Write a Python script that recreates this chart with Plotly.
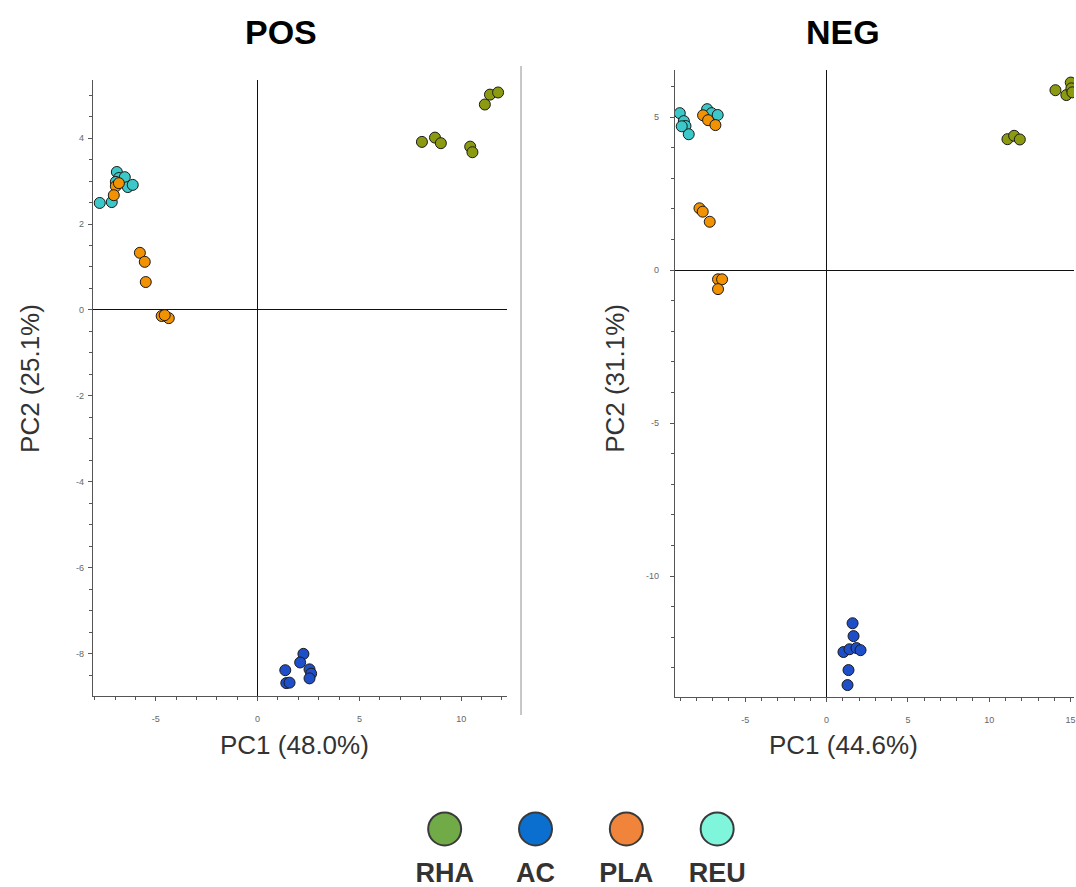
import plotly.graph_objects as go

W, H = 1076, 887

# ---------------- data ----------------
groups = ["RHA", "AC", "PLA", "REU"]
point_colors = {"RHA": "#8c9a12", "AC": "#1f4fc8", "PLA": "#f39200", "REU": "#3cc8c8"}
legend_colors = ["#70ab48", "#0b6fd0", "#f0843a", "#7ff5dc"]

pos_rha_x = [8.07, 8.71, 9.00, 10.44, 10.55, 11.16, 11.41, 11.81]
pos_rha_y = [3.91, 4.01, 3.88, 3.80, 3.67, 4.78, 5.01, 5.06]
pos_ac_x = [2.25, 2.09, 1.36, 2.55, 2.63, 2.55, 1.41, 1.57]
pos_ac_y = [-8.00, -8.20, -8.38, -8.36, -8.46, -8.57, -8.68, -8.67]
pos_pla_x = [-6.96, -7.06, -6.81, -5.78, -5.54, -5.49, -4.71, -4.36, -4.56]
pos_pla_y = [2.88, 2.67, 2.95, 1.33, 1.12, 0.65, -0.14, -0.19, -0.12]
pos_reu_x = [-7.75, -7.16, -6.91, -6.81, -6.52, -6.37, -6.13, -6.96]
pos_reu_y = [2.49, 2.51, 3.21, 3.07, 3.09, 2.86, 2.91, 2.98]

neg_rha_x = [11.12, 11.53, 11.88, 14.07, 14.74, 15.01, 15.05, 15.11]
neg_rha_y = [4.28, 4.39, 4.27, 5.88, 5.72, 6.13, 5.94, 5.81]
neg_ac_x = [1.60, 1.66, 1.04, 1.41, 1.84, 2.09, 1.35, 1.29]
neg_ac_y = [-11.54, -11.96, -12.48, -12.39, -12.35, -12.42, -13.07, -13.56]
neg_pla_x = [-7.59, -7.28, -6.83, -7.81, -7.61, -7.18, -6.67, -6.42, -6.67]
neg_pla_y = [5.06, 4.90, 4.74, 2.02, 1.91, 1.58, -0.30, -0.30, -0.62]
neg_reu_x = [-9.02, -8.77, -8.67, -8.47, -7.34, -7.06, -6.69, -8.90]
neg_reu_y = [5.13, 4.87, 4.71, 4.44, 5.26, 5.13, 5.07, 4.70]

pos_xticks = [-5, 0, 5, 10]
pos_xtext = ["-5", "0", "5", "10"]
pos_yticks = [-8, -6, -4, -2, 0, 2, 4]
pos_ytext = ["-8", "-6", "-4", "-2", "0", "2", "4"]
neg_xticks = [-5, 0, 5, 10, 15]
neg_xtext = ["-5", "0", "5", "10", "15"]
neg_yticks = [-10, -5, 0, 5]
neg_ytext = ["-10", "-5", "0", "5"]

pos_title, neg_title = "POS", "NEG"
pos_xlabel, pos_ylabel = "PC1 (48.0%)", "PC2 (25.1%)"
neg_xlabel, neg_ylabel = "PC1 (44.6%)", "PC2 (31.1%)"

# ---------------- figure ----------------
def px_x(p):
    return p / W

def px_y(p):
    return 1 - p / H

fig = go.Figure()

pos_series = {"RHA": (pos_rha_x, pos_rha_y), "AC": (pos_ac_x, pos_ac_y),
              "REU": (pos_reu_x, pos_reu_y), "PLA": (pos_pla_x, pos_pla_y)}
neg_series = {"RHA": (neg_rha_x, neg_rha_y), "AC": (neg_ac_x, neg_ac_y),
              "REU": (neg_reu_x, neg_reu_y), "PLA": (neg_pla_x, neg_pla_y)}

for name, (xs, ys) in pos_series.items():
    fig.add_trace(go.Scatter(x=xs, y=ys, mode="markers", xaxis="x", yaxis="y",
                             showlegend=False,
                             marker=dict(size=11, color=point_colors[name],
                                         line=dict(color="#1a1a1a", width=1))))
for name, (xs, ys) in neg_series.items():
    fig.add_trace(go.Scatter(x=xs, y=ys, mode="markers", xaxis="x2", yaxis="y2",
                             showlegend=False,
                             marker=dict(size=11, color=point_colors[name],
                                         line=dict(color="#1a1a1a", width=1))))

# custom legend
fig.add_trace(go.Scatter(x=groups, y=[0.667] * 4, mode="markers", xaxis="x3", yaxis="y3",
                         showlegend=False,
                         marker=dict(size=33, color=legend_colors,
                                     line=dict(color="#3a3a3a", width=2))))
fig.add_trace(go.Scatter(x=groups, y=[0.14] * 4, mode="text", xaxis="x3", yaxis="y3",
                         showlegend=False, text=[f"<b>{g}</b>" for g in groups],
                         textfont=dict(size=27, color="#333333", family="Liberation Sans, Arial")))

tickfont = dict(size=9, color="#666666", family="Liberation Sans, Arial")
axis_common = dict(showgrid=False, showline=True, linecolor="#555555", linewidth=1,
                   ticks="outside", ticklen=4, tickcolor="#555555", tickfont=tickfont,
                   zeroline=True, zerolinecolor="#111111", zerolinewidth=1, mirror=False,
                   tickmode="array", ticklabeloverflow="allow")

fig.update_layout(
    width=W, height=H, margin=dict(l=0, r=0, t=0, b=0),
    paper_bgcolor="white", plot_bgcolor="white",
    xaxis=dict(domain=[px_x(93), px_x(508)], range=[-8.09, 12.25], anchor="y",
               tickvals=pos_xticks, ticktext=pos_xtext, ticklabelstandoff=10,
               minor=dict(dtick=1, ticks="outside", ticklen=3, tickcolor="#555555"),
               **axis_common),
    yaxis=dict(domain=[px_y(696), px_y(80)], range=[-8.98, 5.35], anchor="x",
               tickvals=pos_yticks, ticktext=pos_ytext, ticklabelstandoff=2,
               minor=dict(dtick=0.5, ticks="outside", ticklen=3, tickcolor="#555555"),
               **axis_common),
    xaxis2=dict(domain=[px_x(676), 1.0], range=[-9.33, 15.21], anchor="y2",
                tickvals=neg_xticks, ticktext=neg_xtext, ticklabelstandoff=10,
                minor=dict(dtick=1, ticks="outside", ticklen=3, tickcolor="#555555"),
                **axis_common),
    yaxis2=dict(domain=[px_y(697), px_y(70)], range=[-13.95, 6.54], anchor="x2",
                tickvals=neg_yticks, ticktext=neg_ytext, ticklabelstandoff=9,
                minor=dict(dtick=1, ticks="outside", ticklen=3, tickcolor="#555555"),
                **axis_common),
    xaxis3=dict(domain=[px_x(400), px_x(764)], range=[-0.5, 3.5], anchor="y3",
                visible=False, type="category"),
    yaxis3=dict(domain=[0, px_y(800)], range=[0, 1], anchor="x3", visible=False),
)

title_font = dict(size=34, color="#000000", family="Liberation Sans, Arial")
label_font = dict(size=26, color="#333333", family="Liberation Sans, Arial")
ann = [
    dict(text=f"<b>{pos_title}</b>", x=px_x(282), y=px_y(32), font=title_font),
    dict(text=f"<b>{neg_title}</b>", x=px_x(845), y=px_y(32), font=title_font),
    dict(text=pos_xlabel, x=px_x(295), y=px_y(745), font=label_font),
    dict(text=neg_xlabel, x=px_x(845), y=px_y(745), font=label_font),
    dict(text=pos_ylabel, x=px_x(30), y=px_y(378), font=label_font, textangle=-90),
    dict(text=neg_ylabel, x=px_x(616), y=px_y(378), font=label_font, textangle=-90),
]
for a in ann:
    fig.add_annotation(xref="paper", yref="paper", showarrow=False,
                       xanchor="center", yanchor="middle", **a)

# separator line between panels
fig.add_shape(type="line", xref="paper", yref="paper",
              x0=px_x(522), x1=px_x(522), y0=px_y(715), y1=px_y(66),
              line=dict(color="#b5b5b5", width=1.5))

fig.write_html("out.html")
